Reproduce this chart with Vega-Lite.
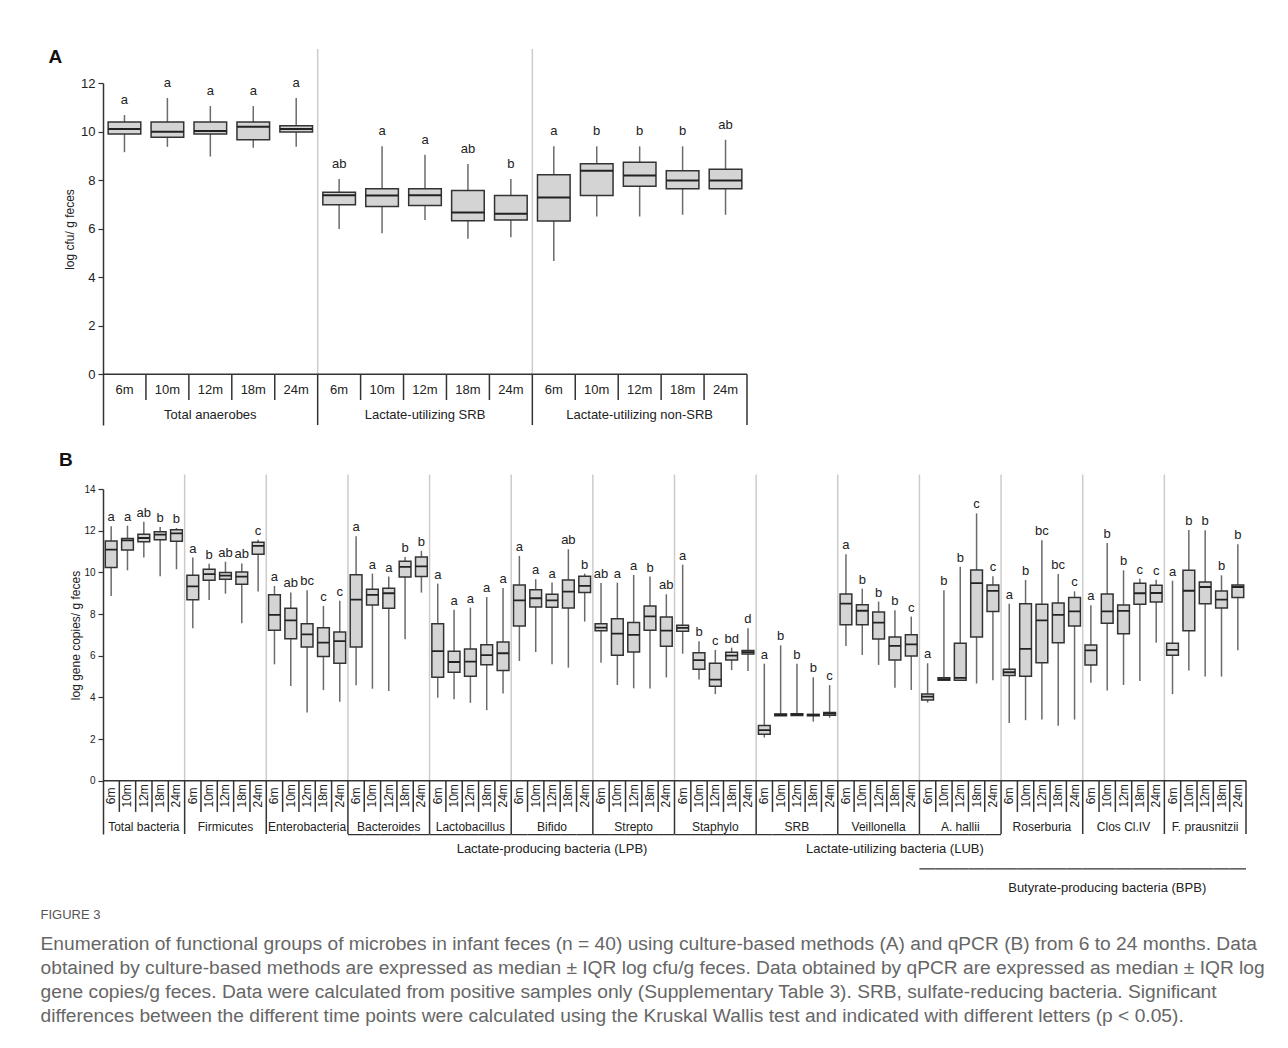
{
  "$schema": "https://vega.github.io/schema/vega-lite/v6.json",
  "padding": {"left": 40, "top": 48, "right": 5, "bottom": 5},
  "spacing": 24,
  "config": {"view": {"stroke": null}, "font": "Liberation Sans"},
  "title": {
    "text": "FIGURE 3", "orient": "bottom", "anchor": "start", "fontSize": 13, "fontWeight": "normal", "color": "#555555",
    "font": "Liberation Sans", "dx": -8, "offset": 14,
    "subtitle": [
      "Enumeration of functional groups of microbes in infant feces (n = 40) using culture-based methods (A) and qPCR (B) from 6 to 24 months. Data",
      "obtained by culture-based methods are expressed as median ± IQR log cfu/g feces. Data obtained by qPCR are expressed as median ± IQR log",
      "gene copies/g feces. Data were calculated from positive samples only (Supplementary Table 3). SRB, sulfate-reducing bacteria. Significant",
      "differences between the different time points were calculated using the Kruskal Wallis test and indicated with different letters (p < 0.05)."
    ],
    "subtitleFont": "Liberation Sans", "subtitleFontSize": 19.2, "subtitleColor": "#666666", "subtitleLineHeight": 24, "subtitlePadding": 13
  },
  "datasets": {
    "one": [{}],
    "A": [
      {"k": "01-1", "t": "6m", "lo": 9.15, "q1": 9.90, "md": 10.10, "q3": 10.39, "hi": 10.68, "s": "a"},
      {"k": "01-2", "t": "10m", "lo": 9.37, "q1": 9.77, "md": 9.99, "q3": 10.39, "hi": 11.38, "s": "a"},
      {"k": "01-3", "t": "12m", "lo": 8.97, "q1": 9.90, "md": 10.02, "q3": 10.39, "hi": 11.05, "s": "a"},
      {"k": "01-4", "t": "18m", "lo": 9.33, "q1": 9.66, "md": 10.20, "q3": 10.39, "hi": 11.05, "s": "a"},
      {"k": "01-5", "t": "24m", "lo": 9.37, "q1": 9.98, "md": 10.10, "q3": 10.24, "hi": 11.38, "s": "a"},
      {"k": "02-1", "t": "6m", "lo": 5.98, "q1": 6.98, "md": 7.38, "q3": 7.50, "hi": 8.04, "s": "ab"},
      {"k": "02-2", "t": "10m", "lo": 5.81, "q1": 6.91, "md": 7.37, "q3": 7.64, "hi": 9.39, "s": "a"},
      {"k": "02-3", "t": "12m", "lo": 6.36, "q1": 6.95, "md": 7.38, "q3": 7.64, "hi": 9.04, "s": "a"},
      {"k": "02-4", "t": "18m", "lo": 5.58, "q1": 6.33, "md": 6.66, "q3": 7.57, "hi": 8.66, "s": "ab"},
      {"k": "02-5", "t": "24m", "lo": 5.65, "q1": 6.36, "md": 6.61, "q3": 7.37, "hi": 8.04, "s": "b"},
      {"k": "03-1", "t": "6m", "lo": 4.67, "q1": 6.31, "md": 7.28, "q3": 8.22, "hi": 9.39, "s": "a"},
      {"k": "03-2", "t": "10m", "lo": 6.50, "q1": 7.37, "md": 8.38, "q3": 8.67, "hi": 9.39, "s": "b"},
      {"k": "03-3", "t": "12m", "lo": 6.50, "q1": 7.75, "md": 8.19, "q3": 8.73, "hi": 9.39, "s": "b"},
      {"k": "03-4", "t": "18m", "lo": 6.57, "q1": 7.64, "md": 7.98, "q3": 8.38, "hi": 9.39, "s": "b"},
      {"k": "03-5", "t": "24m", "lo": 6.57, "q1": 7.64, "md": 7.98, "q3": 8.45, "hi": 9.66, "s": "ab"}
    ],
    "gA": [
      {"g": "Total anaerobes", "m": "01-3", "l": "01-5"},
      {"g": "Lactate-utilizing SRB", "m": "02-3", "l": "02-5"},
      {"g": "Lactate-utilizing non-SRB", "m": "03-3", "l": "03-5"}
    ],
    "B": [
      {"k": "01-1", "t": "6m", "lo": 8.87, "q1": 10.23, "md": 11.09, "q3": 11.51, "hi": 12.21, "s": "a"},
      {"k": "01-2", "t": "10m", "lo": 10.10, "q1": 11.07, "md": 11.54, "q3": 11.63, "hi": 12.24, "s": "a"},
      {"k": "01-3", "t": "12m", "lo": 10.71, "q1": 11.47, "md": 11.65, "q3": 11.83, "hi": 12.43, "s": "ab"},
      {"k": "01-4", "t": "18m", "lo": 9.81, "q1": 11.57, "md": 11.81, "q3": 11.95, "hi": 12.18, "s": "b"},
      {"k": "01-5", "t": "24m", "lo": 10.15, "q1": 11.49, "md": 11.87, "q3": 12.05, "hi": 12.13, "s": "b"},
      {"k": "02-1", "t": "6m", "lo": 7.32, "q1": 8.69, "md": 9.33, "q3": 9.86, "hi": 10.71, "s": "a"},
      {"k": "02-2", "t": "10m", "lo": 8.68, "q1": 9.62, "md": 9.92, "q3": 10.15, "hi": 10.42, "s": "b"},
      {"k": "02-3", "t": "12m", "lo": 8.98, "q1": 9.67, "md": 9.84, "q3": 10.00, "hi": 10.51, "s": "ab"},
      {"k": "02-4", "t": "18m", "lo": 7.56, "q1": 9.43, "md": 9.80, "q3": 10.02, "hi": 10.43, "s": "ab"},
      {"k": "02-5", "t": "24m", "lo": 9.08, "q1": 10.87, "md": 11.27, "q3": 11.44, "hi": 11.57, "s": "c"},
      {"k": "03-1", "t": "6m", "lo": 5.59, "q1": 7.22, "md": 7.96, "q3": 8.93, "hi": 9.35, "s": "a"},
      {"k": "03-2", "t": "10m", "lo": 4.55, "q1": 6.82, "md": 7.70, "q3": 8.28, "hi": 9.04, "s": "ab"},
      {"k": "03-3", "t": "12m", "lo": 3.28, "q1": 6.42, "md": 7.03, "q3": 7.54, "hi": 9.14, "s": "bc"},
      {"k": "03-4", "t": "18m", "lo": 4.35, "q1": 5.96, "md": 6.63, "q3": 7.35, "hi": 8.39, "s": "c"},
      {"k": "03-5", "t": "24m", "lo": 3.80, "q1": 5.64, "md": 6.70, "q3": 7.14, "hi": 8.64, "s": "c"},
      {"k": "04-1", "t": "6m", "lo": 4.59, "q1": 6.42, "md": 8.69, "q3": 9.89, "hi": 11.73, "s": "a"},
      {"k": "04-2", "t": "10m", "lo": 4.42, "q1": 8.44, "md": 8.92, "q3": 9.19, "hi": 9.94, "s": "a"},
      {"k": "04-3", "t": "12m", "lo": 4.31, "q1": 8.28, "md": 9.00, "q3": 9.24, "hi": 9.80, "s": "a"},
      {"k": "04-4", "t": "18m", "lo": 6.79, "q1": 9.78, "md": 10.26, "q3": 10.53, "hi": 10.74, "s": "b"},
      {"k": "04-5", "t": "24m", "lo": 9.03, "q1": 9.80, "md": 10.29, "q3": 10.74, "hi": 11.03, "s": "b"},
      {"k": "05-1", "t": "6m", "lo": 3.99, "q1": 4.97, "md": 6.22, "q3": 7.53, "hi": 9.46, "s": "a"},
      {"k": "05-2", "t": "10m", "lo": 3.92, "q1": 5.21, "md": 5.70, "q3": 6.22, "hi": 8.21, "s": "a"},
      {"k": "05-3", "t": "12m", "lo": 3.74, "q1": 5.02, "md": 5.72, "q3": 6.33, "hi": 8.31, "s": "a"},
      {"k": "05-4", "t": "18m", "lo": 3.39, "q1": 5.57, "md": 6.03, "q3": 6.53, "hi": 8.82, "s": "a"},
      {"k": "05-5", "t": "24m", "lo": 4.19, "q1": 5.29, "md": 6.12, "q3": 6.66, "hi": 9.25, "s": "a"},
      {"k": "06-1", "t": "6m", "lo": 5.75, "q1": 7.43, "md": 8.66, "q3": 9.40, "hi": 10.79, "s": "a"},
      {"k": "06-2", "t": "10m", "lo": 6.18, "q1": 8.34, "md": 8.76, "q3": 9.17, "hi": 9.67, "s": "a"},
      {"k": "06-3", "t": "12m", "lo": 5.59, "q1": 8.33, "md": 8.66, "q3": 8.95, "hi": 9.51, "s": "a"},
      {"k": "06-4", "t": "18m", "lo": 5.43, "q1": 8.29, "md": 9.08, "q3": 9.64, "hi": 11.11, "s": "ab"},
      {"k": "06-5", "t": "24m", "lo": 7.64, "q1": 9.04, "md": 9.35, "q3": 9.81, "hi": 9.94, "s": "b"},
      {"k": "07-1", "t": "6m", "lo": 5.66, "q1": 7.20, "md": 7.35, "q3": 7.53, "hi": 9.49, "s": "ab"},
      {"k": "07-2", "t": "10m", "lo": 4.60, "q1": 6.03, "md": 7.06, "q3": 7.78, "hi": 9.51, "s": "a"},
      {"k": "07-3", "t": "12m", "lo": 4.44, "q1": 6.18, "md": 7.00, "q3": 7.59, "hi": 9.88, "s": "a"},
      {"k": "07-4", "t": "18m", "lo": 4.43, "q1": 7.22, "md": 7.89, "q3": 8.39, "hi": 9.80, "s": "b"},
      {"k": "07-5", "t": "24m", "lo": 4.96, "q1": 6.46, "md": 7.21, "q3": 7.86, "hi": 8.95, "s": "ab"},
      {"k": "08-1", "t": "6m", "lo": 6.10, "q1": 7.18, "md": 7.34, "q3": 7.46, "hi": 10.37, "s": "a"},
      {"k": "08-2", "t": "10m", "lo": 4.86, "q1": 5.35, "md": 5.79, "q3": 6.15, "hi": 6.70, "s": "b"},
      {"k": "08-3", "t": "12m", "lo": 4.16, "q1": 4.54, "md": 4.86, "q3": 5.64, "hi": 6.28, "s": "c"},
      {"k": "08-4", "t": "18m", "lo": 5.31, "q1": 5.80, "md": 6.01, "q3": 6.17, "hi": 6.39, "s": "bd"},
      {"k": "08-5", "t": "24m", "lo": 5.27, "q1": 6.09, "md": 6.17, "q3": 6.25, "hi": 7.32, "s": "d"},
      {"k": "09-1", "t": "6m", "lo": 2.08, "q1": 2.24, "md": 2.43, "q3": 2.65, "hi": 5.62, "s": "a"},
      {"k": "09-2", "t": "10m", "lo": 3.12, "q1": 3.12, "md": 3.17, "q3": 3.21, "hi": 6.50, "s": "b"},
      {"k": "09-3", "t": "12m", "lo": 3.13, "q1": 3.13, "md": 3.18, "q3": 3.22, "hi": 5.62, "s": "b"},
      {"k": "09-4", "t": "18m", "lo": 2.84, "q1": 3.12, "md": 3.15, "q3": 3.19, "hi": 4.97, "s": "b"},
      {"k": "09-5", "t": "24m", "lo": 3.03, "q1": 3.15, "md": 3.22, "q3": 3.28, "hi": 4.59, "s": "c"},
      {"k": "10-1", "t": "6m", "lo": 6.47, "q1": 7.49, "md": 8.50, "q3": 8.96, "hi": 10.87, "s": "a"},
      {"k": "10-2", "t": "10m", "lo": 6.04, "q1": 7.49, "md": 8.16, "q3": 8.45, "hi": 9.22, "s": "b"},
      {"k": "10-3", "t": "12m", "lo": 5.56, "q1": 6.81, "md": 7.59, "q3": 8.10, "hi": 8.60, "s": "b"},
      {"k": "10-4", "t": "18m", "lo": 4.46, "q1": 5.80, "md": 6.47, "q3": 6.90, "hi": 8.18, "s": "b"},
      {"k": "10-5", "t": "24m", "lo": 4.36, "q1": 5.99, "md": 6.55, "q3": 7.01, "hi": 7.88, "s": "c"},
      {"k": "11-1", "t": "6m", "lo": 3.75, "q1": 3.88, "md": 4.04, "q3": 4.17, "hi": 5.64, "s": "a"},
      {"k": "11-2", "t": "10m", "lo": 4.83, "q1": 4.83, "md": 4.88, "q3": 4.94, "hi": 9.14, "s": "b"},
      {"k": "11-3", "t": "12m", "lo": 4.83, "q1": 4.83, "md": 4.94, "q3": 6.60, "hi": 10.27, "s": "b"},
      {"k": "11-4", "t": "18m", "lo": 4.67, "q1": 6.90, "md": 9.48, "q3": 10.11, "hi": 12.83, "s": "c"},
      {"k": "11-5", "t": "24m", "lo": 4.83, "q1": 8.12, "md": 9.11, "q3": 9.40, "hi": 9.81, "s": "c"},
      {"k": "12-1", "t": "6m", "lo": 2.77, "q1": 5.05, "md": 5.21, "q3": 5.35, "hi": 8.50, "s": "a"},
      {"k": "12-2", "t": "10m", "lo": 2.91, "q1": 5.02, "md": 6.33, "q3": 8.50, "hi": 9.64, "s": "b"},
      {"k": "12-3", "t": "12m", "lo": 2.94, "q1": 5.66, "md": 7.70, "q3": 8.47, "hi": 11.54, "s": "bc"},
      {"k": "12-4", "t": "18m", "lo": 2.64, "q1": 6.62, "md": 7.96, "q3": 8.53, "hi": 9.92, "s": "bc"},
      {"k": "12-5", "t": "24m", "lo": 2.94, "q1": 7.43, "md": 8.13, "q3": 8.79, "hi": 9.09, "s": "c"},
      {"k": "13-1", "t": "6m", "lo": 4.70, "q1": 5.56, "md": 6.26, "q3": 6.52, "hi": 8.42, "s": "a"},
      {"k": "13-2", "t": "10m", "lo": 4.33, "q1": 7.56, "md": 8.13, "q3": 8.96, "hi": 11.41, "s": "b"},
      {"k": "13-3", "t": "12m", "lo": 4.60, "q1": 7.06, "md": 8.15, "q3": 8.44, "hi": 10.10, "s": "b"},
      {"k": "13-4", "t": "18m", "lo": 4.79, "q1": 8.47, "md": 9.00, "q3": 9.48, "hi": 9.70, "s": "c"},
      {"k": "13-5", "t": "24m", "lo": 6.63, "q1": 8.58, "md": 9.01, "q3": 9.38, "hi": 9.65, "s": "c"},
      {"k": "14-1", "t": "6m", "lo": 4.16, "q1": 6.03, "md": 6.28, "q3": 6.60, "hi": 9.60, "s": "a"},
      {"k": "14-2", "t": "10m", "lo": 5.29, "q1": 7.20, "md": 9.12, "q3": 10.10, "hi": 12.03, "s": "b"},
      {"k": "14-3", "t": "12m", "lo": 5.00, "q1": 8.49, "md": 9.30, "q3": 9.54, "hi": 12.02, "s": "b"},
      {"k": "14-4", "t": "18m", "lo": 5.00, "q1": 8.29, "md": 8.69, "q3": 9.11, "hi": 9.86, "s": "b"},
      {"k": "14-5", "t": "24m", "lo": 6.27, "q1": 8.79, "md": 9.30, "q3": 9.40, "hi": 11.35, "s": "b"}
    ],
    "gB": [
      {"g": "Total bacteria", "m": "01-3", "l": "01-5"},
      {"g": "Firmicutes", "m": "02-3", "l": "02-5"},
      {"g": "Enterobacteria", "m": "03-3", "l": "03-5"},
      {"g": "Bacteroides", "m": "04-3", "l": "04-5"},
      {"g": "Lactobacillus", "m": "05-3", "l": "05-5"},
      {"g": "Bifido", "m": "06-3", "l": "06-5"},
      {"g": "Strepto", "m": "07-3", "l": "07-5"},
      {"g": "Staphylo", "m": "08-3", "l": "08-5"},
      {"g": "SRB", "m": "09-3", "l": "09-5"},
      {"g": "Veillonella", "m": "10-3", "l": "10-5"},
      {"g": "A. hallii", "m": "11-3", "l": "11-5"},
      {"g": "Roserburia", "m": "12-3", "l": "12-5"},
      {"g": "Clos Cl.IV", "m": "13-3", "l": "13-5"},
      {"g": "F. prausnitzii", "m": "14-3", "l": "14-5"}
    ],
    "sB": [
      {"lab": "Lactate-producing bacteria (LPB)", "at": "06-3"},
      {"lab": "Lactate-utilizing bacteria (LUB)", "at": "10-4"}
    ],
    "bB": [
      {"lab": "Butyrate-producing bacteria (BPB)", "at": "13-2"}
    ]
  },
  "vconcat": [
    {
      "width": 644, "height": 342,
      "title": {"text": "A", "anchor": "start", "fontSize": 19, "fontWeight": "bold", "color": "#111111", "dx": -15, "dy": 23},
      "layer": [
        {
          "data": {"name": "gA"},
          "transform": [{"filter": "datum.l != '03-5'"}],
          "mark": {"type": "rule", "color": "#cccccc", "strokeWidth": 1.5},
          "encoding": {
            "x": {"field": "l", "type": "nominal", "bandPosition": 1, "axis": null, "scale": {"type": "band", "paddingInner": 0, "paddingOuter": 0}},
            "y": {"datum": 0},
            "y2": {"datum": 13.4}
          }
        },
        {
          "data": {"name": "gA"},
          "mark": {"type": "rule", "color": "#333333", "strokeWidth": 1.5},
          "encoding": {
            "x": {"field": "l", "type": "nominal", "bandPosition": 1, "axis": null},
            "y": {"datum": 0},
            "y2": {"datum": -2.09}
          }
        },
        {
          "data": {"name": "A"},
          "transform": [{"filter": "datum.t != '6m'"}],
          "mark": {"type": "rule", "color": "#333333", "strokeWidth": 1.5},
          "encoding": {
            "x": {"field": "k", "type": "nominal", "bandPosition": 0, "axis": null},
            "y": {"datum": 0},
            "y2": {"datum": -1.06}
          }
        },
        {
          "data": {"name": "one"},
          "mark": {"type": "rule", "color": "#333333", "strokeWidth": 1.5},
          "encoding": {"y": {"datum": 0}}
        },
        {
          "data": {"name": "A"},
          "mark": {"type": "rule", "color": "#6b6b6b", "strokeWidth": 1.5},
          "encoding": {
            "x": {"field": "k", "type": "nominal", "axis": null},
            "y": {"field": "lo", "type": "quantitative", "title": "log cfu/ g feces",
                  "scale": {"domain": [-2.09, 12], "nice": false, "zero": false},
                  "axis": {"values": [0, 2, 4, 6, 8, 10, 12], "grid": false, "tickSize": 5, "labelFontSize": 13, "labelColor": "#222222",
                           "domainColor": "#333333", "domainWidth": 1.5, "tickColor": "#333333", "tickWidth": 1.2,
                           "titleFontSize": 12, "titleFontWeight": "normal", "titleColor": "#222222", "titleY": 146, "labelPadding": 3}},
            "y2": {"field": "hi"}
          }
        },
        {
          "data": {"name": "A"},
          "mark": {"type": "bar", "width": {"band": 0.76}, "fill": "#d4d4d4", "stroke": "#333333", "strokeWidth": 1.5},
          "encoding": {
            "x": {"field": "k", "type": "nominal", "axis": null},
            "y": {"field": "q1", "type": "quantitative", "title": "log cfu/ g feces"},
            "y2": {"field": "q3"}
          }
        },
        {
          "data": {"name": "A"},
          "mark": {"type": "bar", "width": {"band": 0.76}, "fill": "transparent", "stroke": "#222222", "strokeWidth": 2},
          "encoding": {
            "x": {"field": "k", "type": "nominal", "axis": null},
            "y": {"field": "md", "type": "quantitative", "title": "log cfu/ g feces"},
            "y2": {"field": "md"}
          }
        },
        {
          "data": {"name": "A"},
          "mark": {"type": "text", "fontSize": 13, "color": "#222222", "baseline": "alphabetic", "dy": -11},
          "encoding": {
            "x": {"field": "k", "type": "nominal", "axis": null},
            "y": {"field": "hi", "type": "quantitative", "title": "log cfu/ g feces"},
            "text": {"field": "s"}
          }
        },
        {
          "data": {"name": "A"},
          "mark": {"type": "text", "fontSize": 13, "color": "#222222", "baseline": "middle"},
          "encoding": {
            "x": {"field": "k", "type": "nominal", "axis": null},
            "y": {"datum": -0.64},
            "text": {"field": "t"}
          }
        },
        {
          "data": {"name": "gA"},
          "mark": {"type": "text", "fontSize": 13, "color": "#222222", "baseline": "middle"},
          "encoding": {
            "x": {"field": "m", "type": "nominal", "axis": null},
            "y": {"datum": -1.68},
            "text": {"field": "g"}
          }
        }
      ]
    },
    {
      "width": 1143, "height": 345,
      "title": {"text": "B", "anchor": "start", "fontSize": 19, "fontWeight": "bold", "color": "#111111", "dx": -11},
      "layer": [
        {
          "data": {"name": "gB"},
          "transform": [{"filter": "datum.l != '14-5'"}],
          "mark": {"type": "rule", "color": "#cccccc", "strokeWidth": 1.5},
          "encoding": {
            "x": {"field": "l", "type": "nominal", "bandPosition": 1, "axis": null, "scale": {"type": "band", "paddingInner": 0, "paddingOuter": 0}},
            "y": {"datum": 0},
            "y2": {"datum": 14.7}
          }
        },
        {
          "data": {"name": "gB"},
          "mark": {"type": "rule", "color": "#333333", "strokeWidth": 1.5},
          "encoding": {
            "x": {"field": "l", "type": "nominal", "bandPosition": 1, "axis": null},
            "y": {"datum": 0},
            "y2": {"datum": -2.55}
          }
        },
        {
          "data": {"name": "B"},
          "transform": [{"filter": "datum.t != '6m'"}],
          "mark": {"type": "rule", "color": "#333333", "strokeWidth": 1.5},
          "encoding": {
            "x": {"field": "k", "type": "nominal", "bandPosition": 0, "axis": null},
            "y": {"datum": 0},
            "y2": {"datum": -1.49}
          }
        },
        {
          "data": {"name": "one"},
          "mark": {"type": "rule", "color": "#333333", "strokeWidth": 1.5},
          "encoding": {"y": {"datum": 0}}
        },
        {
          "data": {"name": "B"},
          "transform": [{"filter": "(datum.k >= '04' && datum.k < '09') || (datum.k >= '09' && datum.k < '12')"}],
          "mark": {"type": "bar", "fill": "transparent", "stroke": "#333333", "strokeWidth": 1.2},
          "encoding": {
            "x": {"field": "k", "type": "nominal", "axis": null},
            "y": {"datum": -2.58},
            "y2": {"datum": -2.58}
          }
        },
        {
          "data": {"name": "B"},
          "transform": [{"filter": "datum.k >= '11'"}],
          "mark": {"type": "bar", "fill": "transparent", "stroke": "#333333", "strokeWidth": 1.2},
          "encoding": {
            "x": {"field": "k", "type": "nominal", "axis": null},
            "y": {"datum": -4.22},
            "y2": {"datum": -4.22}
          }
        },
        {
          "data": {"name": "B"},
          "mark": {"type": "rule", "color": "#6b6b6b", "strokeWidth": 1.5},
          "encoding": {
            "x": {"field": "k", "type": "nominal", "axis": null},
            "y": {"field": "lo", "type": "quantitative", "title": "log gene copies/ g feces",
                  "scale": {"domain": [-2.55, 14], "nice": false, "zero": false},
                  "axis": {"values": [0, 2, 4, 6, 8, 10, 12, 14], "grid": false, "tickSize": 5, "labelFontSize": 10, "labelColor": "#222222",
                           "domainColor": "#333333", "domainWidth": 1.5, "tickColor": "#333333", "tickWidth": 1.2,
                           "titleFontSize": 12, "titleFontWeight": "normal", "titleColor": "#222222", "titleY": 146, "labelPadding": 3, "titlePadding": 1}},
            "y2": {"field": "hi"}
          }
        },
        {
          "data": {"name": "B"},
          "mark": {"type": "bar", "width": {"band": 0.72}, "fill": "#d4d4d4", "stroke": "#333333", "strokeWidth": 1.5},
          "encoding": {
            "x": {"field": "k", "type": "nominal", "axis": null},
            "y": {"field": "q1", "type": "quantitative", "title": "log gene copies/ g feces"},
            "y2": {"field": "q3"}
          }
        },
        {
          "data": {"name": "B"},
          "mark": {"type": "bar", "width": {"band": 0.72}, "fill": "transparent", "stroke": "#222222", "strokeWidth": 1.8},
          "encoding": {
            "x": {"field": "k", "type": "nominal", "axis": null},
            "y": {"field": "md", "type": "quantitative", "title": "log gene copies/ g feces"},
            "y2": {"field": "md"}
          }
        },
        {
          "data": {"name": "B"},
          "mark": {"type": "text", "fontSize": 13, "color": "#222222", "baseline": "alphabetic", "dy": -5},
          "encoding": {
            "x": {"field": "k", "type": "nominal", "axis": null},
            "y": {"field": "hi", "type": "quantitative", "title": "log gene copies/ g feces"},
            "text": {"field": "s"}
          }
        },
        {
          "data": {"name": "B"},
          "mark": {"type": "text", "fontSize": 12, "color": "#222222", "baseline": "middle", "align": "center", "angle": 270},
          "encoding": {
            "x": {"field": "k", "type": "nominal", "axis": null},
            "y": {"datum": -0.72},
            "text": {"field": "t"}
          }
        },
        {
          "data": {"name": "gB"},
          "mark": {"type": "text", "fontSize": 12, "color": "#222222", "baseline": "middle"},
          "encoding": {
            "x": {"field": "m", "type": "nominal", "axis": null},
            "y": {"datum": -2.2},
            "text": {"field": "g"}
          }
        },
        {
          "data": {"name": "sB"},
          "mark": {"type": "text", "fontSize": 13, "color": "#222222", "baseline": "middle"},
          "encoding": {
            "x": {"field": "at", "type": "nominal", "axis": null},
            "y": {"datum": -3.27},
            "text": {"field": "lab"}
          }
        },
        {
          "data": {"name": "bB"},
          "mark": {"type": "text", "fontSize": 13, "color": "#222222", "baseline": "middle"},
          "encoding": {
            "x": {"field": "at", "type": "nominal", "axis": null},
            "y": {"datum": -5.13},
            "text": {"field": "lab"}
          }
        }
      ]
    }
  ]
}
